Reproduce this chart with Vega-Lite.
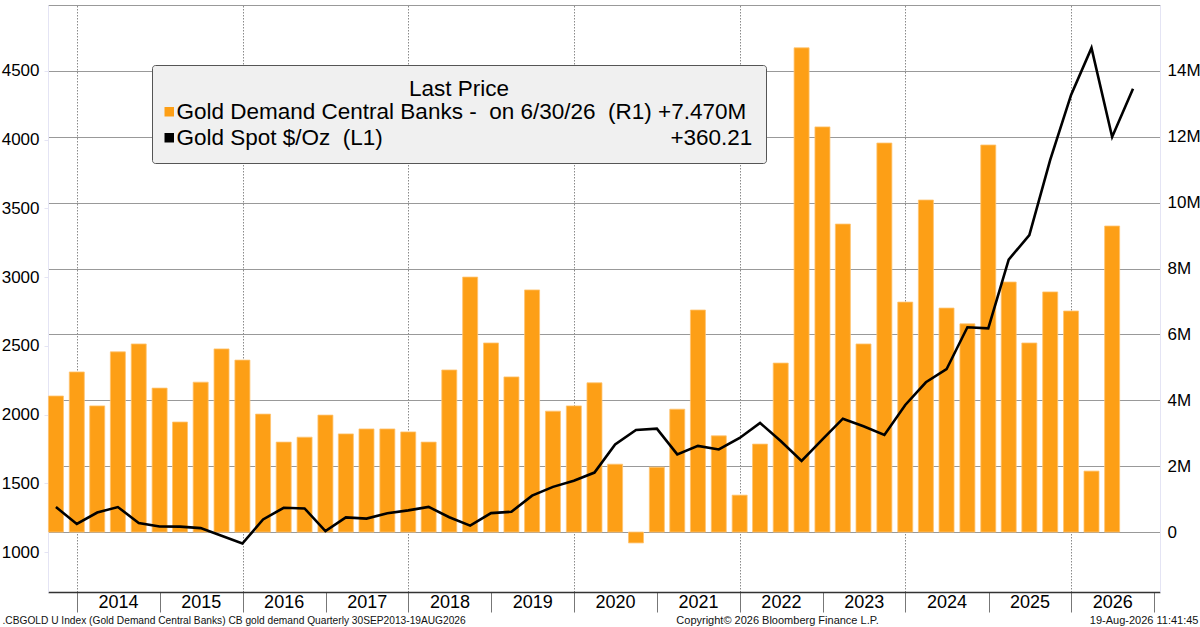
{
  "$schema": "https://vega.github.io/schema/vega-lite/v6.json",
  "width": 1112,
  "height": 587,
  "autosize": {"type": "none"},
  "padding": {"left": 48, "top": 5, "right": 40, "bottom": 35},
  "background": "white",
  "config": {
    "view": {"stroke": null},
    "font": "Liberation Sans",
    "axis": {"labelColor": "#000", "titleColor": "#111", "titleFontWeight": "normal"}
  },
  "data": {
    "values": [
      {"date": "2013-09-30", "demand": 4130000, "gold": 1327},
      {"date": "2013-12-31", "demand": 4860000, "gold": 1204},
      {"date": "2014-03-31", "demand": 3830000, "gold": 1287},
      {"date": "2014-06-30", "demand": 5470000, "gold": 1327},
      {"date": "2014-09-30", "demand": 5710000, "gold": 1211},
      {"date": "2014-12-31", "demand": 4370000, "gold": 1186},
      {"date": "2015-03-31", "demand": 3340000, "gold": 1185},
      {"date": "2015-06-30", "demand": 4550000, "gold": 1174},
      {"date": "2015-09-30", "demand": 5560000, "gold": 1118},
      {"date": "2015-12-31", "demand": 5220000, "gold": 1062},
      {"date": "2016-03-31", "demand": 3580000, "gold": 1237},
      {"date": "2016-06-30", "demand": 2730000, "gold": 1322},
      {"date": "2016-09-30", "demand": 2880000, "gold": 1317},
      {"date": "2016-12-31", "demand": 3550000, "gold": 1152},
      {"date": "2017-03-31", "demand": 2980000, "gold": 1252},
      {"date": "2017-06-30", "demand": 3130000, "gold": 1243},
      {"date": "2017-09-30", "demand": 3130000, "gold": 1282},
      {"date": "2017-12-31", "demand": 3040000, "gold": 1303},
      {"date": "2018-03-31", "demand": 2730000, "gold": 1328},
      {"date": "2018-06-30", "demand": 4920000, "gold": 1253},
      {"date": "2018-09-30", "demand": 7740000, "gold": 1192},
      {"date": "2018-12-31", "demand": 5740000, "gold": 1283},
      {"date": "2019-03-31", "demand": 4710000, "gold": 1293},
      {"date": "2019-06-30", "demand": 7350000, "gold": 1410},
      {"date": "2019-09-30", "demand": 3670000, "gold": 1474},
      {"date": "2019-12-31", "demand": 3830000, "gold": 1519},
      {"date": "2020-03-31", "demand": 4530000, "gold": 1578},
      {"date": "2020-06-30", "demand": 2060000, "gold": 1782},
      {"date": "2020-09-30", "demand": -330000, "gold": 1888},
      {"date": "2020-12-31", "demand": 1970000, "gold": 1898},
      {"date": "2021-03-31", "demand": 3730000, "gold": 1710},
      {"date": "2021-06-30", "demand": 6740000, "gold": 1772},
      {"date": "2021-09-30", "demand": 2920000, "gold": 1746},
      {"date": "2021-12-31", "demand": 1120000, "gold": 1830},
      {"date": "2022-03-31", "demand": 2670000, "gold": 1939},
      {"date": "2022-06-30", "demand": 5130000, "gold": 1808},
      {"date": "2022-09-30", "demand": 14700000, "gold": 1663},
      {"date": "2022-12-31", "demand": 12300000, "gold": 1820},
      {"date": "2023-03-31", "demand": 9350000, "gold": 1970},
      {"date": "2023-06-30", "demand": 5710000, "gold": 1915},
      {"date": "2023-09-30", "demand": 11810000, "gold": 1852},
      {"date": "2023-12-31", "demand": 6980000, "gold": 2070},
      {"date": "2024-03-31", "demand": 10080000, "gold": 2235},
      {"date": "2024-06-30", "demand": 6800000, "gold": 2330},
      {"date": "2024-09-30", "demand": 6320000, "gold": 2635},
      {"date": "2024-12-31", "demand": 11750000, "gold": 2627},
      {"date": "2025-03-31", "demand": 7590000, "gold": 3128},
      {"date": "2025-06-30", "demand": 5740000, "gold": 3305},
      {"date": "2025-09-30", "demand": 7290000, "gold": 3853},
      {"date": "2025-12-31", "demand": 6710000, "gold": 4326},
      {"date": "2026-03-31", "demand": 1850000, "gold": 4668},
      {"date": "2026-06-30", "demand": 9290000, "gold": 4020},
      {"date": "2026-09-30", "demand": null, "gold": 4370}
    ]
  },
  "layer": [
    {
      "mark": {"type": "bar", "width": 15, "stroke": "#ffc470", "strokeWidth": 0.8},
      "encoding": {
        "x": {
          "field": "date",
          "type": "temporal",
          "scale": {
            "type": "utc",
            "padding": 0,
            "domain": [
              {"year": 2013, "month": 8, "date": 26, "utc": true},
              {"year": 2027, "month": 1, "date": 27, "utc": true}
            ]
          },
          "axis": {
            "orient": "bottom",
            "values": [
              {"year": 2014, "month": 1, "date": 1, "utc": true},
              {"year": 2015, "month": 1, "date": 1, "utc": true},
              {"year": 2016, "month": 1, "date": 1, "utc": true},
              {"year": 2017, "month": 1, "date": 1, "utc": true},
              {"year": 2018, "month": 1, "date": 1, "utc": true},
              {"year": 2019, "month": 1, "date": 1, "utc": true},
              {"year": 2020, "month": 1, "date": 1, "utc": true},
              {"year": 2021, "month": 1, "date": 1, "utc": true},
              {"year": 2022, "month": 1, "date": 1, "utc": true},
              {"year": 2023, "month": 1, "date": 1, "utc": true},
              {"year": 2024, "month": 1, "date": 1, "utc": true},
              {"year": 2025, "month": 1, "date": 1, "utc": true},
              {"year": 2026, "month": 1, "date": 1, "utc": true},
              {"year": 2027, "month": 1, "date": 1, "utc": true}
            ],
            "labelExpr": "utcyear(datum.value) > 2026 ? '' : utcFormat(datum.value, '%Y')",
            "labelOffset": 41,
            "labelAlign": "center",
            "labelBaseline": "top",
            "labelPadding": -19,
            "labelFontSize": 18,
            "labelFlush": false,
            "labelBound": false,
            "labelOverlap": false,
            "tickSize": 20,
            "tickColor": "#777",
            "domainColor": "#333",
            "domainWidth": 1.5,
            "grid": false,
            "title": "Copyright\u00a9 2026 Bloomberg Finance L.P.",
            "titleX": 729,
            "titleY": 28,
            "titleAlign": "center",
            "titleBaseline": "middle",
            "titleFontSize": 11
          }
        },
        "y": {
          "field": "demand",
          "type": "quantitative",
          "scale": {"domain": [-1820000, 16000000], "nice": false, "zero": false},
          "axis": {
            "orient": "right",
            "values": [0, 2000000, 4000000, 6000000, 8000000, 10000000, 12000000, 14000000, 16000000],
            "labelExpr": "datum.value >= 16000000 ? '' : datum.value == 0 ? '0' : (datum.value / 1000000) + 'M'",
            "labelFontSize": 17,
            "labelPadding": 7,
            "tickSize": 0,
            "domainColor": "#e4e4f4",
            "grid": true,
            "gridColor": "#999",
            "gridWidth": 1,
            "title": "19-Aug-2026 11:41:45",
            "titleX": 38,
            "titleY": 615,
            "titleAngle": 0,
            "titleAlign": "right",
            "titleBaseline": "middle",
            "titleFontSize": 11
          }
        },
        "color": {
          "datum": "R1",
          "type": "nominal",
          "scale": {"domain": ["R1", "L1"], "range": ["#fd9f16", "#000000"]},
          "legend": {
            "title": "Last Price",
            "orient": "none",
            "legendX": 104,
            "legendY": 60,
            "titleAnchor": "middle",
            "titleFontSize": 22.5,
            "titleFontWeight": "normal",
            "titleColor": "#000",
            "titlePadding": 0,
            "labelFontSize": 22.5,
            "labelColor": "#000",
            "labelLimit": 900,
            "labelOffset": -4,
            "labelExpr": "datum.value == 'R1' ? 'Gold Demand Central Banks -\u00a0\u00a0on 6/30/26\u00a0\u00a0(R1) +7.470M' : 'Gold Spot $/Oz\u00a0\u00a0(L1)\u00a0\u00a0\u00a0\u00a0\u00a0\u00a0\u00a0\u00a0\u00a0\u00a0\u00a0\u00a0\u00a0\u00a0\u00a0\u00a0\u00a0\u00a0\u00a0\u00a0\u00a0\u00a0\u00a0\u00a0\u00a0\u00a0\u00a0\u00a0\u00a0\u00a0\u00a0\u00a0\u00a0\u00a0\u00a0\u00a0\u00a0\u00a0\u00a0\u00a0\u00a0\u00a0\u00a0\u00a0\u00a0\u00a0+360.21'",
            "symbolType": "square",
            "symbolSize": 90,
            "symbolStrokeWidth": 0,
            "symbolOffset": -7,
            "rowPadding": 3,
            "fillColor": "#f0f0f0",
            "strokeColor": "#555",
            "cornerRadius": 3,
            "padding": 13
          }
        }
      }
    },
    {
      "mark": {"type": "line", "color": "#000", "strokeWidth": 2.6},
      "encoding": {
        "x": {
          "field": "date",
          "type": "temporal",
          "axis": {
            "orient": "top",
            "values": [
              {"year": 2014, "month": 1, "date": 1, "utc": true},
              {"year": 2016, "month": 1, "date": 1, "utc": true},
              {"year": 2018, "month": 1, "date": 1, "utc": true},
              {"year": 2020, "month": 1, "date": 1, "utc": true},
              {"year": 2022, "month": 1, "date": 1, "utc": true},
              {"year": 2024, "month": 1, "date": 1, "utc": true},
              {"year": 2026, "month": 1, "date": 1, "utc": true}
            ],
            "labels": false,
            "ticks": false,
            "domain": false,
            "title": null,
            "grid": true,
            "gridColor": "#8a8a8a",
            "gridDash": [1.5, 1.5]
          }
        },
        "y": {
          "field": "gold",
          "type": "quantitative",
          "scale": {"domain": [709, 4980], "nice": false, "zero": false},
          "axis": {
            "orient": "left",
            "values": [1000, 1500, 2000, 2500, 3000, 3500, 4000, 4500],
            "format": "d",
            "labelFontSize": 17,
            "labelPadding": 5,
            "tickSize": 4,
            "tickColor": "#e4e4f4",
            "domainColor": "#e4e4f4",
            "grid": false,
            "title": ".CBGOLD U Index (Gold Demand Central Banks) CB gold demand Quarterly 30SEP2013-19AUG2026",
            "titleX": -46,
            "titleY": 615,
            "titleAngle": 0,
            "titleAlign": "left",
            "titleBaseline": "middle",
            "titleFontSize": 10.2
          }
        }
      }
    }
  ],
  "resolve": {"scale": {"y": "independent"}}
}
